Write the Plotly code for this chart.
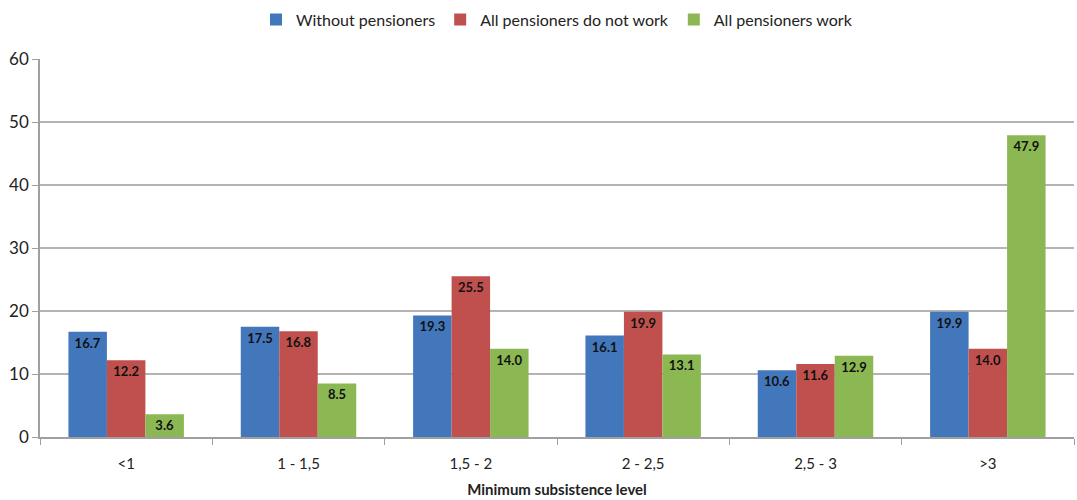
import plotly.graph_objects as go

categories = ["<1", "1 - 1,5", "1,5 - 2", "2 - 2,5", "2,5 - 3", ">3"]
without_pensioners = [16.7, 17.5, 19.3, 16.1, 10.6, 19.9]
pensioners_not_work = [12.2, 16.8, 25.5, 19.9, 11.6, 14.0]
pensioners_work = [3.6, 8.5, 14.0, 13.1, 12.9, 47.9]
series_names = ["Without pensioners", "All pensioners do not work", "All pensioners work"]
colors = ["#4377BC", "#C0504D", "#8CB854"]

fig = go.Figure()
for name, vals, col in zip(series_names, [without_pensioners, pensioners_not_work, pensioners_work], colors):
    fig.add_trace(go.Bar(
        x=categories, y=vals, name=name,
        marker=dict(color=col, line=dict(width=0)),
        texttemplate="%{y:.1f}", textposition="inside", insidetextanchor="end",
        textangle=0,
        textfont=dict(family="Lato", size=13, color="#111111", weight="bold"),
        cliponaxis=False,
    ))

fig.update_layout(
    width=1077, height=500,
    margin=dict(l=40, r=3, t=59, b=63),
    paper_bgcolor="white", plot_bgcolor="white",
    barmode="group", bargap=0.33, bargroupgap=0,
    font=dict(family="Lato", color="#333333"),
    legend=dict(orientation="h", x=0.5, xanchor="center", y=0.995, yanchor="top",
                yref="container", font=dict(size=16, color="#222222"),
                itemwidth=30, traceorder="normal"),
)
fig.update_xaxes(
    showline=True, linecolor="#A0A0A0", linewidth=1.5,
    ticks="outside", tickson="boundaries", ticklen=6, tickcolor="#A0A0A0",
    ticklabelstandoff=12,
    tickfont=dict(size=15, color="#222222"),
    title=dict(text="<b>Minimum subsistence level</b>", font=dict(size=15, color="#222222"), standoff=14),
)
fig.update_yaxes(
    range=[0, 60], dtick=10,
    showline=True, linecolor="#A0A0A0", linewidth=1.5,
    showgrid=True, gridcolor="#B4B4B4", gridwidth=1.5,
    ticks="outside", ticklen=6, tickcolor="#A0A0A0",
    tickfont=dict(size=17, color="#222222"),
    zeroline=False,
)
fig.write_html("out.html")
